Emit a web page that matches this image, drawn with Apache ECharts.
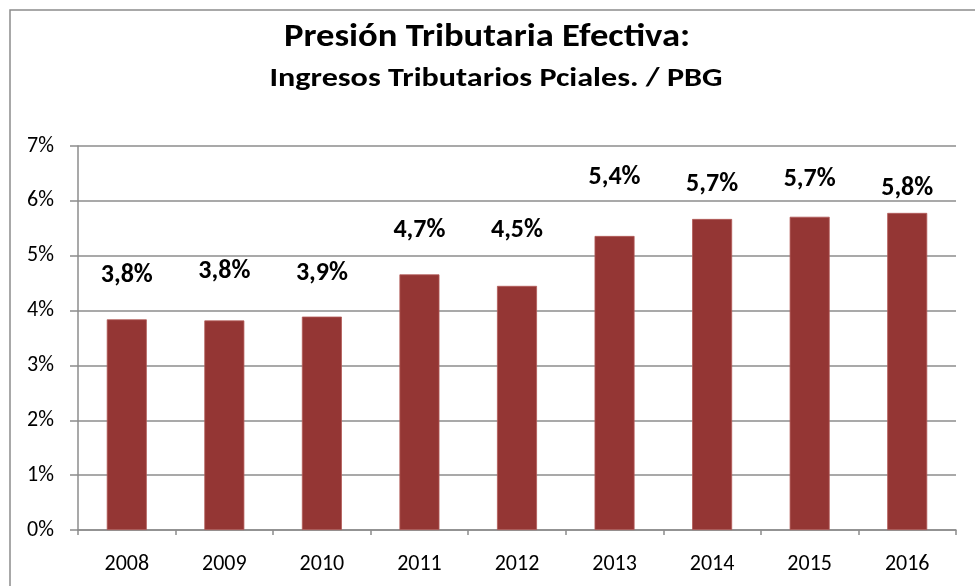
<!DOCTYPE html>
<html>
<head>
<meta charset="utf-8">
<script src="https://cdn.jsdelivr.net/npm/echarts@6/dist/echarts.min.js"></script>
<style>
html,body{margin:0;padding:0;background:#fff;}
#c{width:975px;height:586px;}
</style>
</head>
<body>
<div id="c"></div>
<script>
// Data
var years = ['2008','2009','2010','2011','2012','2013','2014','2015','2016'];
var presion = [3.84, 3.82, 3.89, 4.66, 4.45, 5.36, 5.67, 5.71, 5.78];
var yTicks = [0, 1, 2, 3, 4, 5, 6, 7];
var titleText = 'Presión Tributaria Efectiva:';
var subtitleText = 'Ingresos Tributarios Pciales. / PBG';

// Layout: how far each label sits above its bar (px), as in the reference
var labelLift = [31, 36, 30, 31, 42, 45, 21, 24, 11];

var FONT = 'Carlito, Calibri, Lato, sans-serif';

var chart = echarts.init(document.getElementById('c'), null, {renderer: 'canvas'});

var seriesData = presion.map(function (v, i) {
  return {value: v, label: {distance: labelLift[i]}};
});

chart.setOption({
  animation: false,
  backgroundColor: '#ffffff',
  graphic: [
    {
      type: 'rect',
      shape: {x: 10, y: 10, width: 1000, height: 700},
      style: {fill: 'none', stroke: '#8c8c8c', lineWidth: 1.5},
      silent: true
    },
    {
      type: 'text', x: 487, y: 38, scaleX: 1.11, scaleY: 1,
      style: {text: titleText, fontFamily: FONT, fontWeight: 'bold', fontSize: 33,
        fill: '#000', align: 'center', verticalAlign: 'middle'}
    },
    {
      type: 'text', x: 496, y: 79, scaleX: 1.19, scaleY: 1,
      style: {text: subtitleText, fontFamily: FONT, fontWeight: 'bold', fontSize: 27,
        fill: '#000', align: 'center', verticalAlign: 'middle'}
    }
  ],
  grid: {left: 78, right: 19, top: 146, bottom: 56, containLabel: false},
  xAxis: {
    type: 'category',
    data: years,
    axisLine: {show: true, lineStyle: {color: '#8c8c8c', width: 1.5}},
    axisTick: {show: true, alignWithLabel: false, length: 5, inside: false, lineStyle: {color: '#8c8c8c', width: 1.5}},
    axisLabel: {fontFamily: FONT, fontSize: 22, color: '#000', margin: 23}
  },
  yAxis: {
    type: 'value',
    min: yTicks[0], max: yTicks[yTicks.length - 1], interval: 1,
    axisLine: {show: true, lineStyle: {color: '#8c8c8c', width: 1.5}},
    axisTick: {show: true, length: 8, lineStyle: {color: '#8c8c8c', width: 1.5}},
    splitLine: {show: true, lineStyle: {color: '#8c8c8c', width: 1.5}},
    axisLabel: {fontFamily: FONT, fontSize: 22, color: '#000', margin: 24,
      formatter: function (v) { return v + '%'; }}
  },
  series: [{
    type: 'bar',
    data: seriesData,
    barWidth: 40,
    itemStyle: {color: '#943634', borderColor: '#b35a58', borderWidth: 0.8},
    label: {
      show: true, position: 'top',
      fontFamily: FONT, fontWeight: 'bold', fontSize: 26, color: '#000',
      formatter: function (p) { return p.value.toFixed(1).replace('.', ',') + '%'; }
    }
  }]
});
</script>
</body>
</html>
